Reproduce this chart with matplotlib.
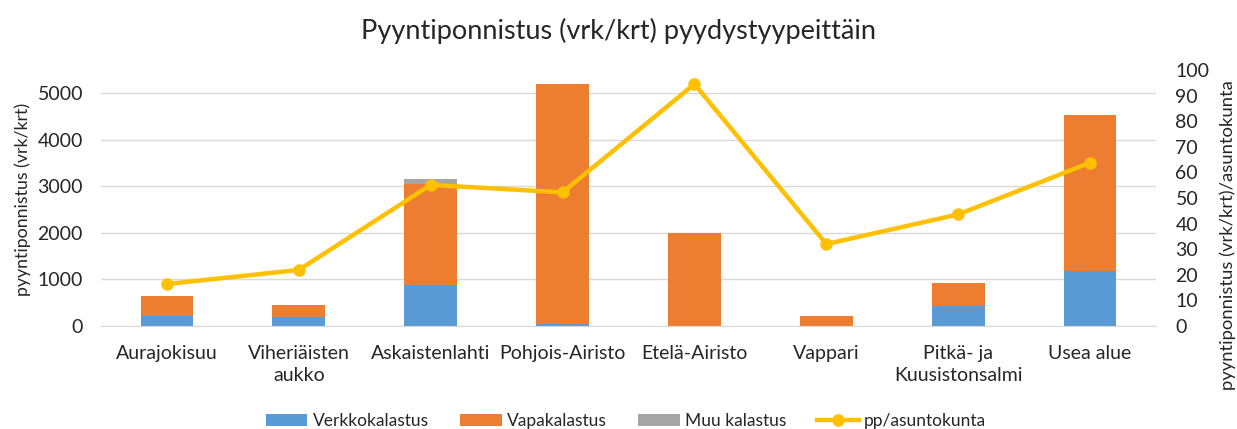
import matplotlib
matplotlib.use("Agg")
import matplotlib.pyplot as plt
import numpy as np

plt.rcParams['font.family'] = ['Lato', 'DejaVu Sans']

categories = ["Aurajokisuu", "Viheriäisten\naukko", "Askaistenlahti", "Pohjois-Airisto",
              "Etelä-Airisto", "Vappari", "Pitkä- ja\nKuusistonsalmi", "Usea alue"]
verkko = [220, 200, 877, 40, 0, 0, 437, 1185]
vapa = [420, 252, 2176, 5154, 2000, 222, 483, 3347]
muu = [0, 0, 115, 0, 0, 0, 0, 0]
pp_asuntokunta = [16.4, 21.9, 55.1, 52.2, 94.5, 32.0, 43.6, 63.8]

left_ticks = [0, 1000, 2000, 3000, 4000, 5000]
right_ticks = list(range(0, 101, 10))

c_blue = "#5B9BD5"
c_orange = "#ED7D31"
c_gray = "#A5A5A5"
c_yellow = "#FFC000"
tc = "#262626"

fig = plt.figure(figsize=(12.37, 4.29), dpi=100)
ax = fig.add_axes([101/1237, 1-326/429, (1156-101)/1237, (326-70)/429])
x = np.arange(len(categories))
w = 0.4
b1 = ax.bar(x, verkko, w, color=c_blue, label="Verkkokalastus", zorder=2)
b2 = ax.bar(x, vapa, w, bottom=verkko, color=c_orange, label="Vapakalastus", zorder=2)
bottom2 = [a + b for a, b in zip(verkko, vapa)]
b3 = ax.bar(x, muu, w, bottom=bottom2, color=c_gray, label="Muu kalastus", zorder=2)

ax.set_ylim(0, 5500)
ax.set_xlim(-0.5, len(categories) - 0.5)
ax.set_yticks(left_ticks)
ax.tick_params(axis='y', length=0, labelsize=14, colors=tc, pad=13)
ax.tick_params(axis='x', length=0, labelsize=14, colors=tc, pad=14)
ax.set_xticks(x)
ax.set_xticklabels(categories, linespacing=1.35)
for t in ax.get_xticklabels():
    t.set_horizontalalignment('center')
ax.grid(axis='y', color="#D9D9D9", linewidth=1, zorder=0)
ax.set_axisbelow(True)
for s in ['top', 'right', 'left']:
    ax.spines[s].set_visible(False)
ax.spines['bottom'].set_color("#D9D9D9")
ax.set_ylabel("pyyntiponnistus (vrk/krt)", fontsize=12.8, color=tc)
ax.yaxis.label.set_va('center')
ax.yaxis.set_label_coords((23-101)/1055, (326-199)/256)

ax2 = ax.twinx()
l, = ax2.plot(x, pp_asuntokunta, color=c_yellow, linewidth=3.2, marker='o', markersize=8,
              label="pp/asuntokunta", zorder=3)
ax2.set_ylim(0, 100)
ax2.set_yticks(right_ticks)
ax2.tick_params(axis='y', length=0, labelsize=14, colors=tc, pad=14)
for s in ['top', 'right', 'left', 'bottom']:
    ax2.spines[s].set_visible(False)
ax2.set_ylabel("pyyntiponnistus (vrk/krt)/asuntokunta", fontsize=13.3, color=tc)
ax2.yaxis.label.set_va('center')
ax2.yaxis.set_label_coords((1228-101)/1055, (326-235)/256)

fig.text(0.5, 1-31/429, "Pyyntiponnistus (vrk/krt) pyydystyypeittäin", ha='center', va='center',
         fontsize=19.5, color=tc)

fig.legend(handles=[b1, b2, b3, l], loc='center', bbox_to_anchor=(626/1237, 1-421/429), ncol=4,
           frameon=False, fontsize=12.5, handlelength=2.4, handletextpad=0.3,
           columnspacing=1.8, labelcolor=tc)

fig.savefig("out.png", dpi=100)
